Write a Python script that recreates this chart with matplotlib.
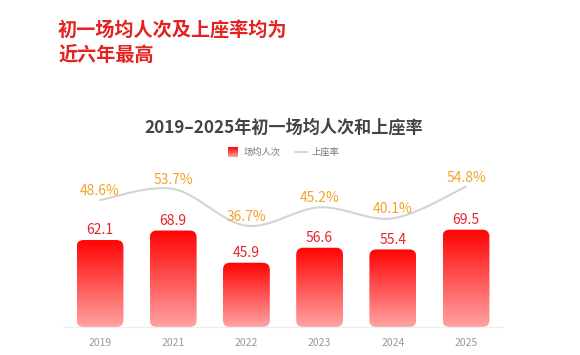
import numpy as np
import matplotlib
matplotlib.use("Agg")
import matplotlib.pyplot as plt
from matplotlib.patches import FancyBboxPatch
from matplotlib.colors import LinearSegmentedColormap

plt.rcParams['font.family'] = ['Noto Sans CJK SC', 'DejaVu Sans']

years = ['2019', '2021', '2022', '2023', '2024', '2025']
avg_people = [62.1, 68.9, 45.9, 56.6, 55.4, 69.5]
occupancy = [48.6, 53.7, 36.7, 45.2, 40.1, 54.8]
header_lines = ['初一场均人次及上座率均为', '近六年最高']
chart_title = '2019–2025年初一场均人次和上座率'
legend_labels = ['场均人次', '上座率']

W, H = 580, 355
fig = plt.figure(figsize=(W / 100, H / 100), dpi=100)
fig.patch.set_facecolor('white')

def fx(px):
    return px / W

def fy(py):
    return 1 - py / H

ax_l, ax_r, ax_t, ax_b = 63.4, 502.6, 165, 327
ax = fig.add_axes([fx(ax_l), fy(ax_b), (ax_r - ax_l) / W, (ax_b - ax_t) / H])
ax2 = ax.twinx()

x = np.arange(len(years))
YMAX = 115.7
ax.set_xlim(-0.5, len(years) - 0.5)
ax.set_ylim(0, YMAX)
ax2.set_ylim(-10.2, 64.8)

cmap = LinearSegmentedColormap.from_list('g', ['#ffa3a3', '#ff0303'])
grad = np.linspace(0, 1, 256).reshape(-1, 1)

bars = ax.bar(x, avg_people, width=0.64, color='none', edgecolor='none')
px_per_x = (ax_r - ax_l) / 6.0
px_per_y = (ax_b - ax_t) / YMAX
r_px = 7
for b in bars:
    bx, bw, bh = b.get_x(), b.get_width(), b.get_height()
    rs = r_px / px_per_x
    patch = FancyBboxPatch((bx, 0), bw, bh,
                           boxstyle=f"round,pad=0,rounding_size={rs}",
                           mutation_aspect=(r_px / px_per_y) / rs,
                           facecolor='none', edgecolor='none')
    ax.add_patch(patch)
    im = ax.imshow(grad, extent=(bx, bx + bw, 0, bh), origin='lower',
                   cmap=cmap, aspect='auto', zorder=2)
    im.set_clip_path(patch)
ax.set_aspect('auto')
ax.set_xlim(-0.5, len(years) - 0.5)
ax.set_ylim(0, YMAX)

for xi, v in zip(x, avg_people):
    ax.annotate(f'{v:.1f}', (xi, v), xytext=(0, 7), textcoords='offset points',
                ha='center', va='center', fontsize=10, color='#e3262c', zorder=5)

# smooth line (Catmull-Rom)
pts = np.column_stack([x, occupancy]).astype(float)
ext = np.vstack([pts[0], pts, pts[-1]])
cx, cy = [], []
for i in range(1, len(ext) - 2):
    p0, p1, p2, p3 = ext[i - 1], ext[i], ext[i + 1], ext[i + 2]
    t = np.linspace(0, 1, 40)[:, None]
    seg = 0.5 * ((2 * p1) + (-p0 + p2) * t + (2 * p0 - 5 * p1 + 4 * p2 - p3) * t ** 2
                 + (-p0 + 3 * p1 - 3 * p2 + p3) * t ** 3)
    cx.extend(seg[:, 0]); cy.extend(seg[:, 1])
ax2.plot(cx, cy, color='#d4d4d4', lw=1.5, zorder=3, solid_capstyle='round')

for xi, v in zip(x, occupancy):
    ax2.annotate(f'{v:.1f}%', (xi, v), xytext=(0, 6.5), textcoords='offset points',
                 ha='center', va='center', fontsize=10, color='#f2a42a', zorder=5)

for a in (ax, ax2):
    for s in a.spines.values():
        s.set_visible(False)
ax.spines['bottom'].set_visible(True)
ax.spines['bottom'].set_color('#eeeeee')
ax.spines['bottom'].set_linewidth(1)
ax.set_xticks(x)
ax.set_xticklabels(years)
ax.tick_params(axis='x', length=0, pad=8, labelsize=7.5, labelcolor='#999999')
ax.set_yticks([])
ax2.set_yticks([])
ax.set_zorder(ax2.get_zorder() - 1)
ax2.patch.set_visible(False)
ax.patch.set_visible(False)

# header
fig.text(fx(58), fy(30), header_lines[0], fontsize=13.8, fontweight='bold',
         color='#e3231f', ha='left', va='center')
fig.text(fx(58), fy(55), header_lines[1], fontsize=13.8, fontweight='bold',
         color='#e3231f', ha='left', va='center')

# chart title
fig.text(fx(284), fy(128), chart_title, fontsize=12.3, fontweight='bold',
         color='#444444', ha='center', va='center')

# legend
lax = fig.add_axes([0, 0, 1, 1], facecolor='none')
lax.axis('off')
lax.imshow(grad, extent=(228, 238, 157, 147), origin='lower', cmap=cmap, aspect='auto')
lax.set_xlim(0, W); lax.set_ylim(H, 0)
lax.text(244, 152, legend_labels[0], fontsize=6.7, color='#777777', ha='left', va='center')
lax.plot([295, 307], [152, 152], color='#d0d0d0', lw=1.2)
lax.text(312, 152, legend_labels[1], fontsize=6.7, color='#777777', ha='left', va='center')

fig.savefig('out.png', dpi=100)
